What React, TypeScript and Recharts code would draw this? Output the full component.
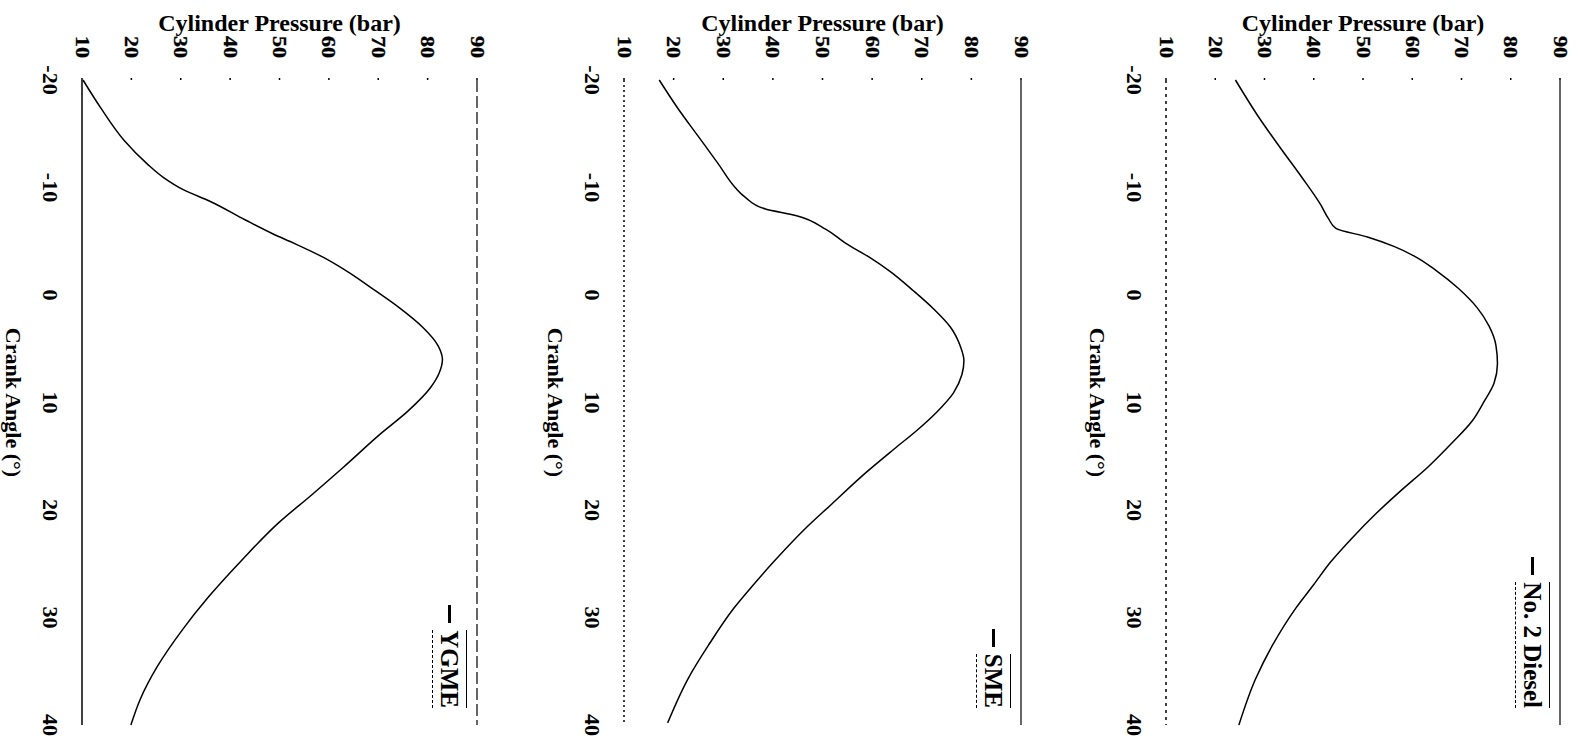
import React from 'react'
import { LineChart, Line, XAxis, YAxis, ReferenceLine, Legend } from 'recharts'

const FONT = '"Liberation Serif", "Times New Roman", serif'

const angleTicks = [-20, -10, 0, 10, 20, 30, 40]
const pressureTicks = [10, 20, 30, 40, 50, 60, 70, 80, 90]

// crank angle (deg) / cylinder pressure (bar)
const dieselAngle = [-20, -16.7, -13.7, -11, -8.4, -7.1, -6.2, -5.4, -4.5, -3.6, -2.3, -0.6, 1.2, 2.9, 4.7, 6.4, 8.2, 9.9, 11.7, 13.8, 16, 18.2, 20.4, 22.6, 24.8, 27, 29.1, 32.6, 35.7, 40]
const dieselPressure = [24.1, 28.6, 33.2, 37.5, 41.4, 43, 44.5, 50.9, 56.4, 60.5, 64.8, 69.4, 73.2, 75.6, 77, 77.3, 76.6, 74.6, 72.2, 68, 63.2, 57.7, 52.5, 47.8, 43.5, 39.9, 36.4, 31.6, 28.2, 24.8]

const smeAngle = [-20, -17.4, -14.8, -12.2, -10, -9.1, -8, -7.4, -6.1, -4.8, -3.5, -2.2, -0.4, 1.3, 3, 4.8, 6.1, 7.4, 9.1, 10.9, 12.6, 14.3, 16.5, 19.6, 21.7, 24.8, 27, 29.1, 32.6, 35.7, 39.8]
const smePressure = [17.1, 20.8, 24.9, 29, 32.4, 34.4, 38.5, 44.6, 50.7, 54.7, 59.5, 63.6, 68.3, 72.4, 75.8, 77.8, 78.5, 78.1, 76.4, 73, 69, 64.5, 58.8, 51.5, 46.6, 40.2, 36, 32.2, 27, 22.9, 18.8]

const ygmeAngle = [-20, -17.4, -14.4, -12.2, -10.9, -9.8, -8.7, -7, -5.7, -4.8, -3.5, -2.2, -0.5, 1.2, 3, 4.7, 6, 7.3, 8.6, 10.8, 12.9, 16, 18.6, 21.2, 24.6, 28.1, 31.1, 34.6, 37.6, 40]
const ygmePressure = [10.2, 13.8, 18.5, 23.2, 26.6, 30.5, 36, 43, 48.6, 53, 58.9, 63.7, 69.1, 74.3, 79, 82.1, 83, 82.3, 80.6, 76, 70.5, 63, 56.5, 49.8, 42.5, 35.6, 30.4, 25.2, 21.8, 19.9]

const toRows = (a: number[], p: number[]) => a.map((angle, i) => ({ angle, pressure: p[i] }))

const CHART_W = 744
const CHART_H = 542

const PressureTick = (props: any) => {
  const { x, y, payload } = props
  return (
    <text
      transform={`translate(${x},${y}) scale(1,0.85)`}
      textAnchor="end"
      dominantBaseline="central"
      fontSize={22}
      fontWeight="bold"
      fontFamily={FONT}
      fill="#000"
      stroke="#000"
      strokeWidth={0.4}
    >
      {payload.value}
    </text>
  )
}

const legendContent = (name: string) => () => (
  <div style={{ display: 'flex', alignItems: 'center', fontFamily: FONT, fontWeight: 'bold', fontSize: 25, color: '#000' }}>
    <span style={{ display: 'inline-block', width: 18, height: 3, background: '#000', marginRight: 7 }} />
    <span style={{ borderTop: '1.5px solid #000', borderBottom: '1px dashed #000', padding: '4px 0', lineHeight: '25px', whiteSpace: 'nowrap' }}>
      {name}
    </span>
  </div>
)

interface PanelProps {
  left: number
  top: number
  name: string
  data: { angle: number; pressure: number }[]
  baseDash?: string
  topDash?: string
}

const Panel = ({ left, top, name, data, baseDash, topDash }: PanelProps) => (
  <div style={{ position: 'absolute', left, top: 0, width: CHART_H, height: CHART_W }}>
    <div
      style={{
        position: 'absolute',
        left: 0,
        top: 0,
        width: CHART_W,
        height: CHART_H,
        transformOrigin: '0 0',
        transform: `translateX(${CHART_H}px) rotate(90deg)`
      }}
    >
      <LineChart width={CHART_W} height={CHART_H} data={data} margin={{ top, right: 19, left: 0, bottom: 0 }}>
        <XAxis
          type="number"
          dataKey="angle"
          domain={[-20, 40]}
          ticks={angleTicks}
          interval={0}
          height={82}
          tickLine={false}
          tickSize={0}
          tickMargin={23}
          axisLine={{ stroke: '#000', strokeWidth: 1.5, strokeDasharray: baseDash }}
          tick={{ fontSize: 22, fontWeight: 'bold', fontFamily: FONT, fill: '#000' }}
          label={{ value: 'Crank Angle (°)', position: 'insideBottom', offset: 6, fontSize: 22, fontWeight: 'bold', fontFamily: FONT, fill: '#000' }}
        />
        <YAxis
          type="number"
          domain={[10, 90]}
          ticks={pressureTicks}
          interval={0}
          width={80}
          axisLine={false}
          tickLine={{ stroke: '#000', strokeWidth: 1.5 }}
          tickSize={2}
          tickMargin={20}
          tick={<PressureTick />}
          label={{ value: 'Cylinder Pressure (bar)', angle: -90, position: 'insideLeft', offset: 22, fontSize: 24, fontWeight: 'bold', fontFamily: FONT, fill: '#000', style: { textAnchor: 'middle' } }}
        />
        <ReferenceLine y={90} stroke="#000" strokeWidth={1.2} strokeDasharray={topDash} />
        <Legend
          layout="horizontal"
          verticalAlign="middle"
          align="center"
          content={legendContent(name)}
          wrapperStyle={{ top: top + 10, right: 36, left: 'auto', width: 'auto', height: 'auto' }}
        />
        <Line
          type="monotone"
          dataKey="pressure"
          stroke="#000"
          strokeWidth={1.5}
          dot={false}
          isAnimationActive={false}
        />
      </LineChart>
    </div>
  </div>
)

export default function App() {
  return (
    <div style={{ position: 'absolute', left: 0, top: 0, width: 1587, height: 744, overflow: 'hidden', background: '#fff' }}>
      <Panel left={0} top={65} name="YGME" data={toRows(ygmeAngle, ygmePressure)} topDash="12 4" />
      <Panel left={542} top={63} name="SME" data={toRows(smeAngle, smePressure)} baseDash="2 3" />
      <Panel left={1084} top={66} name="No. 2 Diesel" data={toRows(dieselAngle, dieselPressure)} baseDash="3 4" />
    </div>
  )
}
